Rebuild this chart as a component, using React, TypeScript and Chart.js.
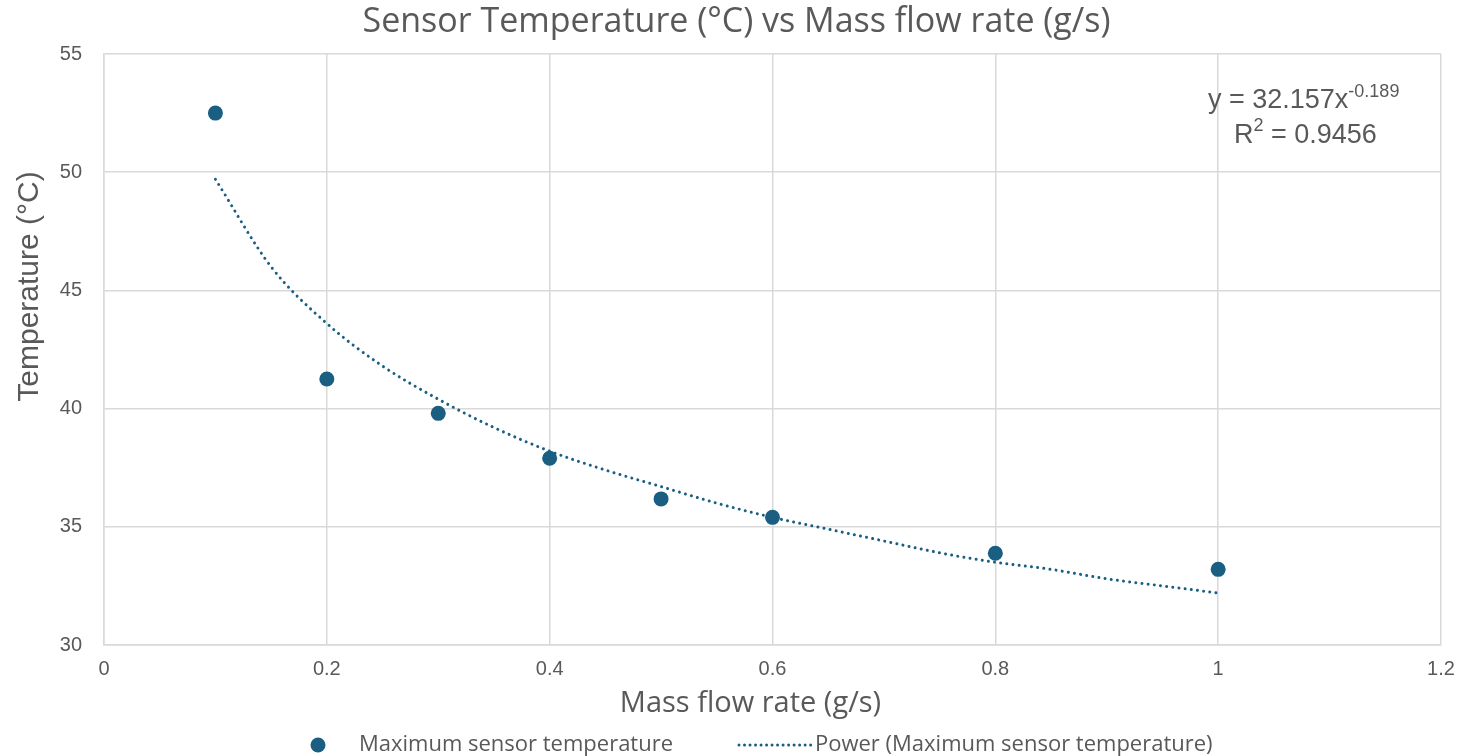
import React, { useEffect, useRef } from "react";
import { Chart, registerables } from "chart.js";

Chart.register(...registerables);

const chartTitle = "Sensor Temperature (°C) vs Mass flow rate (g/s)";
const xAxisTitle = "Mass flow rate (g/s)";
const yAxisTitle = "Temperature (°C)";
const seriesName = "Maximum sensor temperature";
const trendName = "Power (Maximum sensor temperature)";
const equationMain = "y = 32.157x";
const equationExp = "-0.189";
const r2Label = "R";
const r2Exp = "2";
const r2Value = " = 0.9456";

const flowRates = [0.1, 0.2, 0.3, 0.4, 0.5, 0.6, 0.8, 1.0];
const maxTemps = [52.5, 41.25, 39.8, 37.9, 36.18, 35.4, 33.88, 33.2];

const trendX = [0.1, 0.15, 0.2, 0.25, 0.3, 0.35, 0.4, 0.45, 0.5, 0.55, 0.6, 0.65, 0.7, 0.75, 0.8, 0.85, 0.9, 0.95, 1.0];
const trendY = [49.7, 46.0, 43.6, 41.8, 40.4, 39.2, 38.2, 37.4, 36.7, 36.0, 35.4, 34.9, 34.4, 33.9, 33.5, 33.2, 32.8, 32.5, 32.2];

const xTicks = [0, 0.2, 0.4, 0.6, 0.8, 1, 1.2];
const yTicks = [30, 35, 40, 45, 50, 55];

const MARK = "#1a5f82";
const TEXT = "#595959";
const GRID = "#d9d9d9";

const overlayPlugin = {
  id: "overlay",
  afterDraw(chart: any) {
    const { ctx, chartArea } = chart;
    ctx.save();
    ctx.fillStyle = TEXT;
    ctx.textBaseline = "middle";
    const cx = (chartArea.left + chartArea.right) / 2;

    // Title
    ctx.font = "34px 'Open Sans', sans-serif";
    ctx.textAlign = "center";
    ctx.fillText(chartTitle, cx - 36, 22);

    // X axis title
    ctx.font = "29px 'Open Sans', sans-serif";
    ctx.fillText(xAxisTitle, cx - 22, chartArea.bottom + 59);

    // Y axis title
    ctx.save();
    ctx.translate(30, (chartArea.top + chartArea.bottom) / 2 - 63);
    ctx.rotate(-Math.PI / 2);
    ctx.font = "30px 'Liberation Sans', Arial, sans-serif";
    ctx.fillText(yAxisTitle, 0, 0);
    ctx.restore();

    // Equation
    ctx.textAlign = "left";
    ctx.font = "27px 'Liberation Sans', Arial, sans-serif";
    const ex = chartArea.right - 233;
    const ey = chartArea.top + 47;
    ctx.fillText(equationMain, ex, ey);
    const mw = ctx.measureText(equationMain).width;
    ctx.font = "18px 'Liberation Sans', Arial, sans-serif";
    ctx.fillText(equationExp, ex + mw, ey - 9);

    const rx = chartArea.right - 207;
    const ry = chartArea.top + 82;
    ctx.font = "27px 'Liberation Sans', Arial, sans-serif";
    ctx.fillText(r2Label, rx, ry);
    const rw = ctx.measureText(r2Label).width;
    ctx.font = "18px 'Liberation Sans', Arial, sans-serif";
    ctx.fillText(r2Exp, rx + rw, ry - 10);
    const r2w = ctx.measureText(r2Exp).width;
    ctx.font = "27px 'Liberation Sans', Arial, sans-serif";
    ctx.fillText(r2Value, rx + rw + r2w, ry);

    // Legend
    const ly = chart.height - 11;
    ctx.fillStyle = MARK;
    ctx.beginPath();
    ctx.arc(318, ly, 7.5, 0, Math.PI * 2);
    ctx.fill();
    ctx.fillStyle = TEXT;
    ctx.font = "22px 'Open Sans', sans-serif";
    ctx.fillText(seriesName, 359, ly);

    ctx.strokeStyle = MARK;
    ctx.lineWidth = 3;
    ctx.lineCap = "round";
    ctx.setLineDash([0.01, 5.5]);
    ctx.beginPath();
    ctx.moveTo(739, ly);
    ctx.lineTo(811, ly);
    ctx.stroke();
    ctx.setLineDash([]);
    ctx.fillText(trendName, 815, ly);
    ctx.restore();
  },
};

export default function App() {
  const canvasRef = useRef<HTMLCanvasElement | null>(null);

  useEffect(() => {
    document.body.style.margin = "0";
    const canvas = canvasRef.current;
    if (!canvas) return;
    const chart = new Chart(canvas, {
      type: "scatter",
      data: {
        datasets: [
          {
            type: "scatter",
            label: seriesName,
            data: flowRates.map((x, i) => ({ x, y: maxTemps[i] })),
            backgroundColor: MARK,
            borderWidth: 0,
            pointRadius: 7.5,
            pointHoverRadius: 7.5,
            order: 1,
          },
          {
            type: "line",
            label: trendName,
            data: trendX.map((x, i) => ({ x, y: trendY[i] })),
            borderColor: MARK,
            borderWidth: 3,
            borderCapStyle: "round",
            borderDash: [0.01, 6.2],
            pointRadius: 0,
            cubicInterpolationMode: "monotone",
            fill: false,
            order: 2,
          } as any,
        ],
      },
      options: {
        animation: false,
        responsive: false,
        maintainAspectRatio: false,
        layout: { padding: { top: 54, right: 21, bottom: 61, left: 0 } },
        plugins: {
          legend: { display: false },
          title: { display: false },
          tooltip: { enabled: false },
        },
        scales: {
          x: {
            type: "linear",
            min: 0,
            max: 1.2,
            afterBuildTicks: (scale: any) => {
              scale.ticks = xTicks.map((v) => ({ value: v }));
            },
            afterFit: (scale: any) => {
              scale.height = 50;
              scale.paddingLeft = 0;
              scale.paddingRight = 0;
            },
            ticks: {
              color: TEXT,
              font: { family: "'Liberation Sans', Arial, sans-serif", size: 20 },
              padding: 12,
              maxRotation: 0,
              callback: (v: any) => String(Number(Number(v).toFixed(1))),
            },
            grid: { color: GRID, lineWidth: 1.5, drawTicks: false },
            border: { color: GRID, width: 1.5 },
          },
          y: {
            type: "linear",
            min: 30,
            max: 55,
            afterBuildTicks: (scale: any) => {
              scale.ticks = yTicks.map((v) => ({ value: v }));
            },
            afterFit: (scale: any) => {
              scale.width = 104;
            },
            ticks: {
              color: TEXT,
              font: { family: "'Liberation Sans', Arial, sans-serif", size: 20 },
              padding: 22,
            },
            grid: { color: GRID, lineWidth: 1.5, drawTicks: false },
            border: { color: GRID, width: 1.5 },
          },
        },
      },
      plugins: [overlayPlugin],
    });
    return () => chart.destroy();
  }, []);

  return (
    <div style={{ width: 1462, height: 756, background: "#ffffff" }}>
      <canvas ref={canvasRef} width={1462} height={756} style={{ display: "block" }} />
    </div>
  );
}
